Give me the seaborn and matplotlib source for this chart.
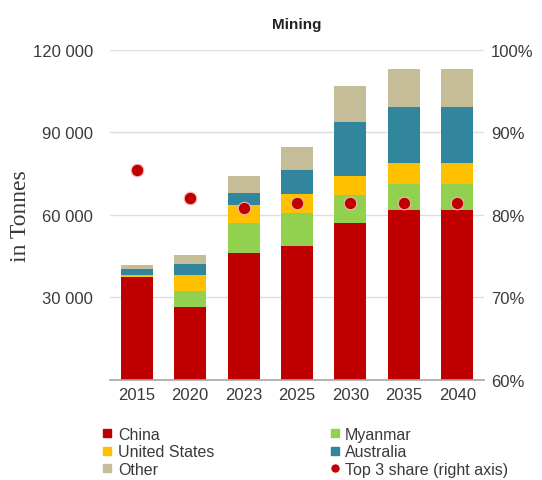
import matplotlib
matplotlib.use("Agg")
import matplotlib.pyplot as plt
from matplotlib.lines import Line2D
from matplotlib.ticker import FuncFormatter
import numpy as np
import pandas as pd
import seaborn as sns

# ---- data ------------------------------------------------------------------
years = ["2015", "2020", "2023", "2025", "2030", "2035", "2040"]
china = [37500, 26600, 46200, 48700, 57100, 61700, 61700]
myanmar = [0, 5800, 11000, 12100, 10000, 9600, 9600]
united_states = [500, 5600, 6300, 6900, 7000, 7500, 7500]
australia = [2500, 4100, 4600, 8500, 19600, 20300, 20300]
other = [1200, 3200, 6000, 8400, 13100, 14000, 14000]
top3_share = [85.5, 82.1, 80.8, 81.4, 81.4, 81.4, 81.4]   # %, right axis

layers = ["China", "Myanmar", "United States", "Australia", "Other"]
colors = {"China": "#C00000", "Myanmar": "#92D050", "United States": "#FFC000",
          "Australia": "#31859C", "Other": "#C4BD97"}
TXT = "#3a3a3a"

sns.set_theme(style="white")
plt.rcParams["font.family"] = ["Liberation Sans", "DejaVu Sans"]

df = pd.DataFrame({"year": years, "China": china, "Myanmar": myanmar,
                   "United States": united_states, "Australia": australia,
                   "Other": other})
cum = df[layers].cumsum(axis=1)

fig = plt.figure(figsize=(5.42, 4.81), dpi=100)
ax = fig.add_axes([0.203, 0.208, 0.69, 0.686])

# stacked bars: draw cumulative totals from the top layer down
for name in reversed(layers):
    sns.barplot(x=df["year"], y=cum[name], color=colors[name], saturation=1,
                width=0.6, ax=ax, linewidth=0, zorder=2)

ax.set_xlim(-0.5, 6.5)
ax.set_ylim(0, 120000)
ax.set_yticks([30000, 60000, 90000, 120000])
ax.yaxis.set_major_formatter(FuncFormatter(lambda v, _: f"{int(v):,}".replace(",", " ")))
ax.grid(axis="y", color="#dedede", lw=1, zorder=0)
ax.set_axisbelow(True)
for s in ["top", "left", "right"]:
    ax.spines[s].set_visible(False)
ax.spines["bottom"].set_color("#a6a6a6")
ax.spines["bottom"].set_linewidth(1.2)
ax.tick_params(axis="both", length=0, labelsize=12, colors=TXT)
ax.tick_params(axis="y", pad=12)
ax.tick_params(axis="x", pad=5)
ax.set_xlabel("")
ax.set_ylabel("in Tonnes", family=["Liberation Serif", "DejaVu Serif"],
              fontsize=17, color=TXT)
ax.yaxis.set_label_coords(-0.21, 0.5)
ax.set_title("Mining", fontsize=11, fontweight="bold", color="#222222", pad=16)

# top-3 share on the right axis
ax2 = ax.twinx()
sns.pointplot(x=years, y=top3_share, linestyle="none", marker="o",
              color="#C00000", markersize=9, markeredgecolor="#f3b5b5",
              markeredgewidth=0.8, ax=ax2, zorder=5)
ax2.set_xlim(-0.5, 6.5)
ax2.set_ylim(60, 100)
ax2.set_yticks([60, 70, 80, 90, 100])
ax2.yaxis.set_major_formatter(FuncFormatter(lambda v, _: f"{int(v)}%"))
ax2.tick_params(axis="y", length=0, labelsize=12, colors=TXT, pad=5)
for s in ["top", "left", "right", "bottom"]:
    ax2.spines[s].set_visible(False)
ax2.grid(False)

# legend: two columns below the chart
def sq(c):
    return Line2D([], [], marker="s", linestyle="none", color=c, markersize=6)

handles = [sq(colors["China"]), sq(colors["United States"]), sq(colors["Other"]),
           sq(colors["Myanmar"]), sq(colors["Australia"]),
           Line2D([], [], marker="o", linestyle="none", color="#C00000", markersize=5)]
labels = ["China", "United States", "Other", "Myanmar", "Australia",
          "Top 3 share (right axis)"]
fig.legend(handles, labels, loc="upper left", bbox_to_anchor=(0.188, 0.11),
           ncol=2, frameon=False, fontsize=11.5, labelcolor=TXT,
           handlelength=0.7, handletextpad=0.3, labelspacing=0.14,
           columnspacing=7.2, borderpad=0, borderaxespad=0)

fig.savefig("out.png", dpi=100)
